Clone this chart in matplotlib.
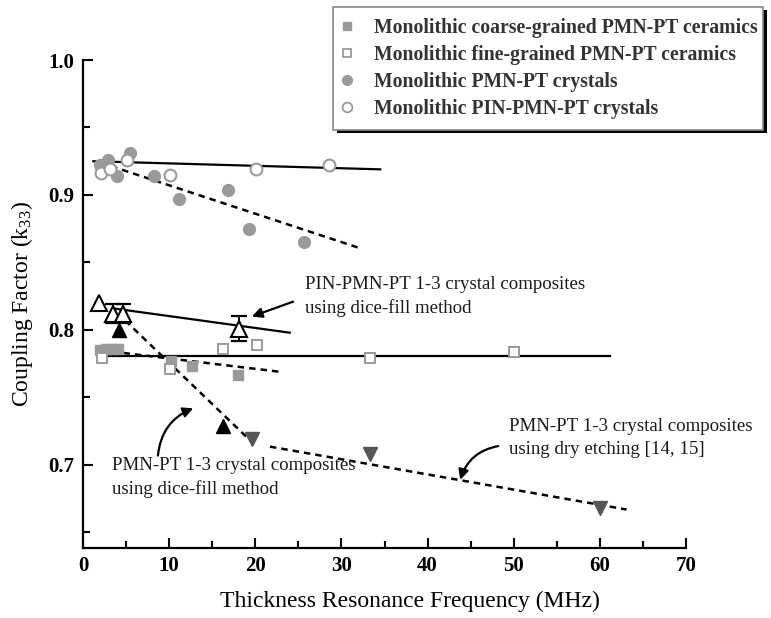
import matplotlib

matplotlib.use("Agg")
import matplotlib.pyplot as plt
from matplotlib.patches import Rectangle
from matplotlib.ticker import MultipleLocator, FormatStrFormatter

plt.rcParams["font.family"] = ["Liberation Serif", "DejaVu Serif"]
plt.rcParams["mathtext.fontset"] = "custom"
plt.rcParams["mathtext.rm"] = "Liberation Serif"

# measured k33 vs thickness resonance frequency (MHz)
coarse_f = [2.0, 2.7, 3.3, 4.1, 10.2, 12.6, 18.0]
coarse_k = [0.785, 0.786, 0.786, 0.786, 0.777, 0.773, 0.767]
fine_f = [2.2, 10.1, 16.3, 20.2, 33.3, 50.0]
fine_k = [0.779, 0.771, 0.786, 0.789, 0.779, 0.784]
pmn_xtal_f = [2.0, 2.9, 4.0, 5.4, 8.2, 11.2, 16.8, 19.3, 25.7]
pmn_xtal_k = [0.922, 0.926, 0.914, 0.931, 0.914, 0.897, 0.904, 0.875, 0.865]
pin_xtal_f = [2.05, 3.1, 5.15, 10.1, 20.1, 28.6]
pin_xtal_k = [0.916, 0.919, 0.926, 0.915, 0.919, 0.922]
pin_comp_f = [1.9, 3.5, 4.7, 18.1]
pin_comp_k = [0.820, 0.812, 0.812, 0.801]
pin_comp_err = [0.0, 0.007, 0.007, 0.009]
dice_f = [4.2, 16.2]
dice_k = [0.800, 0.729]
etch_f = [19.6, 33.3, 60.0]
etch_k = [0.719, 0.708, 0.668]

# trend lines (start/end points)
pin_xtal_fit = ([1.2, 34.5], [0.925, 0.919])
pmn_xtal_fit = ([2.0, 32.2], [0.924, 0.8605])
pin_comp_fit = ([3.5, 24.0], [0.816, 0.798])
fine_fit = ([2.7, 61.2], [0.781, 0.781])
coarse_fit = ([4.7, 22.9], [0.783, 0.769])
dice_fit = ([4.9, 19.6], [0.807, 0.717])
etch_fit = ([21.7, 63.1], [0.7136, 0.667])

GRAY = "#9a9a9a"
DARK = "#555555"
dash = (0, (2.6, 2.0))
W, H = 771, 618

fig = plt.figure(figsize=(W / 100, H / 100), dpi=100)
ax = fig.add_axes([83 / W, 1 - 548 / H, (686 - 83) / W, (548 - 60) / H])

ax.plot(*pin_xtal_fit, color="black", lw=1.6, zorder=2)
ax.plot(*pmn_xtal_fit, color="black", lw=1.8, ls=dash, zorder=2)
ax.plot(*pin_comp_fit, color="black", lw=1.6, zorder=2)
ax.plot(*fine_fit, color="black", lw=1.6, zorder=2)
ax.plot(*coarse_fit, color="black", lw=1.8, ls=dash, zorder=2)
ax.plot(*dice_fit, color="black", lw=1.8, ls=dash, zorder=2)
ax.plot(*etch_fit, color="black", lw=1.8, ls=dash, zorder=2)

ax.plot(coarse_f, coarse_k, "s", ms=7, mfc=GRAY, mec=GRAY, ls="none", zorder=3)
ax.plot(fine_f, fine_k, "s", ms=7, mfc="white", mec=GRAY, mew=1.4, ls="none", zorder=3)
ax.plot(pmn_xtal_f, pmn_xtal_k, "o", ms=8.5, mfc=GRAY, mec=GRAY, ls="none", zorder=3)
ax.plot(pin_xtal_f, pin_xtal_k, "o", ms=8.5, mfc="white", mec=GRAY, mew=1.5, ls="none", zorder=4)

# error bars only where a spread was reported
for f, k, e in zip(pin_comp_f, pin_comp_k, pin_comp_err):
    if e > 0:
        ax.errorbar(f, k, yerr=e, fmt="none", ecolor="black", elinewidth=1.4,
                    capsize=6, capthick=1.6, zorder=3)
ax.plot(pin_comp_f, pin_comp_k, "^", ms=11, mfc="white", mec="black", mew=1.5, ls="none", zorder=5)
ax.plot(dice_f, dice_k, "^", ms=10, mfc="black", mec="black", ls="none", zorder=4)
ax.plot(etch_f, etch_k, "v", ms=10, mfc=DARK, mec=DARK, ls="none", zorder=4)

ax.set_xlim(0, 70)
ax.set_ylim(0.6385, 1.0)
ax.spines["top"].set_visible(False)
ax.spines["right"].set_visible(False)
for s in ("left", "bottom"):
    ax.spines[s].set_linewidth(1.6)
ax.xaxis.set_major_locator(MultipleLocator(10))
ax.xaxis.set_minor_locator(MultipleLocator(5))
ax.yaxis.set_major_locator(MultipleLocator(0.1))
ax.yaxis.set_minor_locator(MultipleLocator(0.05))
ax.yaxis.set_major_formatter(FormatStrFormatter("%.1f"))
ax.tick_params(which="both", direction="in", width=1.5, labelsize=15, pad=6)
ax.tick_params(which="major", length=7)
ax.tick_params(which="minor", length=5)
for lab in ax.get_xticklabels() + ax.get_yticklabels():
    lab.set_fontweight("bold")

ax.set_xlabel("Thickness Resonance Frequency (MHz)", fontsize=17)
ax.xaxis.set_label_coords(0.542, -0.088)
ax.set_ylabel(r"Coupling Factor (k$\mathregular{_{33}}$)", fontsize=17, labelpad=10)

txt = dict(fontsize=13.6, color="#1a1a1a", linespacing=1.45, va="top", ha="left")
ax.text(25.8, 0.840, "PIN-PMN-PT 1-3 crystal composites\nusing dice-fill method", **txt)
ax.text(3.4, 0.706, "PMN-PT 1-3 crystal composites\nusing dice-fill method", **txt)
ax.text(49.5, 0.735, "PMN-PT 1-3 crystal composites\nusing dry etching [14, 15]", **txt)

arrow = dict(arrowstyle="-|>", color="black", lw=1.6, mutation_scale=15, shrinkA=0, shrinkB=0)
ax.annotate("", xy=(19.6, 0.810), xytext=(24.4, 0.821), arrowprops=arrow)
ax.annotate("", xy=(12.8, 0.742), xytext=(8.7, 0.707),
            arrowprops=dict(arrow, connectionstyle="arc3,rad=-0.3"))
ax.annotate("", xy=(43.8, 0.689), xytext=(48.2, 0.714),
            arrowprops=dict(arrow, connectionstyle="arc3,rad=0.3"))

# legend box with a hard black drop shadow, drawn by hand
box_x0, box_y0, box_x1, box_y1 = 333, 7, 763, 130
fig.patches.append(Rectangle(((box_x0 + 4) / W, 1 - (box_y1 + 3) / H),
                             (box_x1 - box_x0) / W, (box_y1 - box_y0) / H,
                             transform=fig.transFigure, facecolor="black",
                             edgecolor="none", zorder=5))
fig.patches.append(Rectangle((box_x0 / W, 1 - box_y1 / H),
                             (box_x1 - box_x0) / W, (box_y1 - box_y0) / H,
                             transform=fig.transFigure, facecolor="white",
                             edgecolor="#888888", lw=1.2, zorder=6))

h_coarse, = ax.plot([], [], "s", ms=6, mfc=GRAY, mec=GRAY)
h_fine, = ax.plot([], [], "s", ms=6, mfc="white", mec=GRAY, mew=1.3)
h_pmn, = ax.plot([], [], "o", ms=7, mfc=GRAY, mec=GRAY)
h_pin, = ax.plot([], [], "o", ms=7, mfc="white", mec=GRAY, mew=1.3)
leg = fig.legend(
    [h_coarse, h_fine, h_pmn, h_pin],
    ["Monolithic coarse-grained PMN-PT ceramics",
     "Monolithic fine-grained PMN-PT ceramics",
     "Monolithic PMN-PT crystals",
     "Monolithic PIN-PMN-PT crystals"],
    loc="upper left", bbox_to_anchor=(box_x0 / W, 1 - 10 / H),
    prop=dict(family="Liberation Serif", weight="bold", size=14.2),
    handlelength=0.6, handletextpad=1.1, borderpad=0.4, labelspacing=0.36,
    borderaxespad=0, frameon=False,
)
leg.set_zorder(7)
for t in leg.get_texts():
    t.set_color("#333333")

fig.savefig("out.png", dpi=100)
